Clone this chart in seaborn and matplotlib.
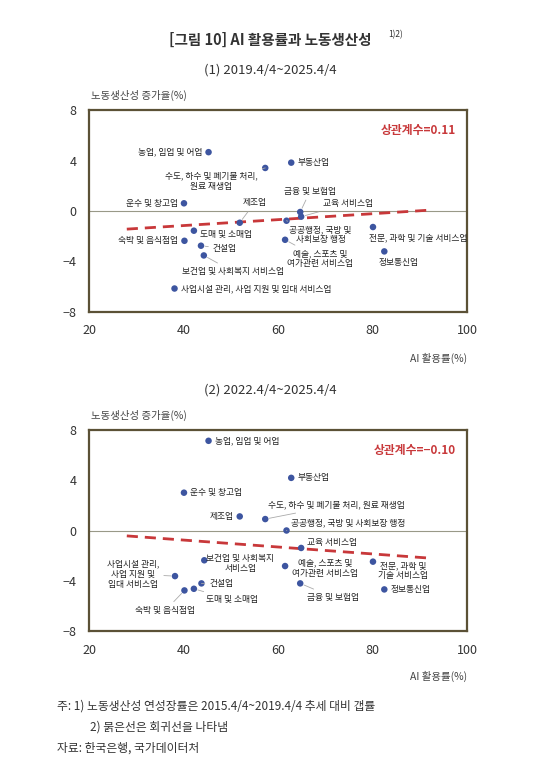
import numpy as np
import pandas as pd
import matplotlib
matplotlib.use("Agg")
import matplotlib.pyplot as plt
import seaborn as sns

sns.set_theme(style="white")
plt.rcParams['font.family'] = ['Noto Sans CJK KR', 'DejaVu Sans']
plt.rcParams['axes.unicode_minus'] = False

industries1 = ["농업, 임업 및 어업", "수도, 하수 및 폐기물 처리,\n원료 재생업", "부동산업", "운수 및 창고업",
               "금융 및 보험업", "교육 서비스업", "제조업", "공공행정, 국방 및\n사회보장 행정", "도매 및 소매업",
               "숙박 및 음식점업", "건설업", "보건업 및 사회복지 서비스업", "예술, 스포츠 및\n여가관련 서비스업",
               "전문, 과학 및 기술 서비스업", "정보통신업", "사업시설 관리, 사업 지원 및 임대 서비스업"]
ai1 = [45.3, 57.3, 62.8, 40.1, 64.7, 64.9, 51.9, 61.8, 42.2, 40.2, 43.7, 44.3, 61.5, 80.1, 82.5, 38.1]
prod1 = [4.66, 3.41, 3.83, 0.61, -0.08, -0.45, -0.93, -0.77, -1.56, -2.36, -2.75, -3.52, -2.28, -1.27, -3.2, -6.14]
# label offsets (pixels), ha, leader
lab1 = [(-6, 0, 'right', False), (-54, -13, 'center', True), (6, 0, 'left', False), (-6, 0, 'right', False),
        (10, 21, 'center', True), (22, 13, 'left', True), (15, 20, 'center', True), (34, -14, 'center', True),
        (6, -4, 'left', False), (-6, 0, 'right', False), (12, -3, 'left', True), (29, -16, 'center', True),
        (35, -19, 'center', True), (45, -11, 'center', False), (14, -11, 'center', False), (6, 0, 'left', False)]

industries2 = ["농업, 임업 및 어업", "부동산업", "운수 및 창고업", "제조업", "수도, 하수 및 폐기물 처리, 원료 재생업",
               "공공행정, 국방 및 사회보장 행정", "교육 서비스업", "보건업 및 사회복지\n서비스업",
               "예술, 스포츠 및\n여가관련 서비스업", "전문, 과학 및\n기술 서비스업", "사업시설 관리,\n사업 지원 및\n임대 서비스업",
               "건설업", "도매 및 소매업", "숙박 및 음식점업", "금융 및 보험업", "정보통신업"]
ai2 = [45.3, 62.8, 40.1, 51.9, 57.3, 61.8, 64.9, 44.4, 61.5, 80.1, 38.2, 43.8, 42.2, 40.2, 64.7, 82.5]
prod2 = [7.14, 4.19, 3.01, 1.12, 0.91, 0.0, -1.39, -2.37, -2.83, -2.48, -3.63, -4.21, -4.64, -4.77, -4.21, -4.69]
lab2 = [(6, 0, 'left', False), (6, 0, 'left', False), (6, 0, 'left', False), (-6, 0, 'right', False),
        (3, 14, 'left', True), (4, 8, 'left', True), (6, 5, 'left', False), (36, -3, 'center', False),
        (40, -2, 'center', False), (30, -9, 'center', False), (-42, 2, 'center', True),
        (8, 0, 'left', True), (12, -11, 'left', True), (-19, -20, 'center', True), (33, -14, 'center', True),
        (6, 0, 'left', False)]

corr_labels = ["상관계수=0.11", "상관계수=−0.10"]
subtitles = ["(1) 2019.4/4~2025.4/4", "(2) 2022.4/4~2025.4/4"]
yticks = [8, 4, 0, -4, -8]
xticks = [20, 40, 60, 80, 100]

fig = plt.figure(figsize=(5.4, 7.7), dpi=100)
frame = "#5b5136"
dot = "#3d55a0"
red = "#c8383a"

fig.text(0.5, 1 - 40/770, "[그림 10] AI 활용률과 노동생산성", ha='center', va='center', fontsize=10.5,
         fontweight='bold', color='#333333')
fig.text(0.5 + 118/540, 1 - 35/770, "1)2)", ha='left', va='center', fontsize=6, color='#333333')

panels = [(ai1, prod1, industries1, lab1, 110, 312, 70), (ai2, prod2, industries2, lab2, 430, 631, 390)]
for i, (ax_x, ax_y, names, labs, top, bot, sty) in enumerate(panels):
    ax = fig.add_axes([89/540, 1 - bot/770, (467-89)/540, (bot-top)/770])
    df = pd.DataFrame({"ai": ax_x, "gr": ax_y, "name": names})
    ax.axhline(0, color='#999988', lw=0.8, zorder=1)
    coef = np.polyfit(df["ai"], df["gr"], 1)
    xs = np.array([28, 92.5])
    ax.plot(xs, np.polyval(coef, xs), color=red, lw=2, ls=(0, (4, 2.5)), zorder=2)
    sns.scatterplot(data=df, x="ai", y="gr", ax=ax, color=dot, s=22, edgecolor='none', zorder=3)
    for (_, r), (dx, dy, ha, lead) in zip(df.iterrows(), labs):
        ax.annotate(r["name"], (r["ai"], r["gr"]), xytext=(dx, dy), textcoords='offset pixels',
                    ha=ha, va='center', fontsize=6.3, color='#222222', linespacing=1.2,
                    arrowprops=dict(arrowstyle='-', color='#aaaaaa', lw=0.6, shrinkA=1, shrinkB=3) if lead else None)
    ax.text(0.97, 0.90, corr_labels[i], transform=ax.transAxes, ha='right', va='center',
            color=red, fontsize=8.5, fontweight='bold')
    ax.set_xlim(20, 100)
    ax.set_ylim(-8, 8)
    ax.set_xticks(xticks)
    ax.set_yticks(yticks)
    ax.set_yticklabels([("−" + str(-t)) if t < 0 else str(t) for t in yticks])
    ax.tick_params(axis='both', length=0, labelsize=9, colors='#333333', pad=9)
    ax.set_xlabel("")
    ax.set_ylabel("")
    for s in ax.spines.values():
        s.set_color(frame)
        s.set_linewidth(1.6)
    ax.text(0.005, 1.045, "노동생산성 증가율(%)", transform=ax.transAxes, ha='left', va='bottom',
            fontsize=7.5, color='#444444')
    ax.text(1.0, -0.2, "AI 활용률(%)", transform=ax.transAxes, ha='right', va='top',
            fontsize=7.5, color='#444444')
    fig.text(0.5, 1 - sty/770, subtitles[i], ha='center', va='center', fontsize=9.5, color='#333333')

fig.text(57/540, 1 - 706/770, "주: 1) 노동생산성 연성장률은 2015.4/4~2019.4/4 추세 대비 갭률", ha='left', va='center',
         fontsize=8.5, color='#333333')
fig.text(90/540, 1 - 727/770, "2) 붉은선은 회귀선을 나타냄", ha='left', va='center', fontsize=8.5, color='#333333')
fig.text(57/540, 1 - 748/770, "자료: 한국은행, 국가데이터처", ha='left', va='center', fontsize=8.5, color='#333333')

fig.savefig("out.png", dpi=100)
